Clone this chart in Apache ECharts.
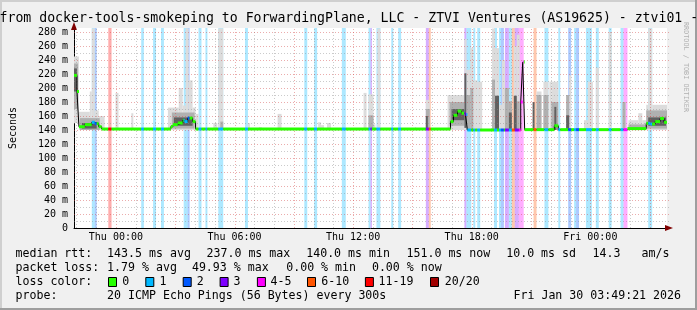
<!DOCTYPE html>
<html><head><meta charset="utf-8">
<script src="https://cdn.jsdelivr.net/npm/echarts@6/dist/echarts.min.js"></script>
<style>html,body{margin:0;padding:0;background:#f0f0f0}#c{width:697px;height:310px}</style>
</head><body><div id="c"></div>
<script>
// ---- time axis: hours relative to Thu 00:00 ----
const X_MIN = -2.12, X_MAX = 27.88;
const Y_MAX = 285.7;
const xTickHours = [0, 6, 12, 18, 24];
const xTickLabels = ['Thu 00:00', 'Thu 06:00', 'Thu 12:00', 'Thu 18:00', 'Fri 00:00'];
const yTickValues = [0, 20, 40, 60, 80, 100, 120, 140, 160, 180, 200, 220, 240, 260, 280];

// loss classes
const lossLabels = ['0', '1', '2', '3', '4-5', '6-10', '11-19', '20/20'];
const lossColors = ['#26ff00', '#00b8ff', '#0059ff', '#7e00ff', '#ff00ff', '#ff5500', '#ff0000', '#a10000'];

// median rtt (ms), step function: value holds from medT[i] until medT[i+1]
const medT = [-2.12,-1.97,-1.87,-1.57,-1.22,-1.07,-0.87,-0.72,2.78,2.88,3.13,3.38,3.48,3.63,3.88,4.03,16.93,17.08,17.28,17.48,17.68,17.78,20.48,20.58,20.68,22.18,22.38,25.88,26.83,27.03,27.28,27.53,27.73];
const medV = [218,195,144.7,147.6,151,149,144.7,141.4,145,147.6,150,154,152,157,152,141.4,152,161,167,164,162,140,180,237,140.5,146,140.5,142,149.5,148.5,152,156.5,151];

// packet-loss periods: [start, end, loss class]
const lossBands = [[-1.22,-1.07,1],[-1.07,-0.97,2],[-0.385,-0.22,6],[1.28,1.415,1],[1.88,2.03,1],[2.28,2.43,1],[3.43,3.63,1],[3.63,3.73,2],[4.18,4.33,1],[4.53,4.63,1],[5.18,5.43,1],[6.53,6.68,1],[9.53,9.68,1],[10.03,10.18,1],[11.43,11.63,1],[12.78,12.88,1],[12.88,12.95,3],[13.18,13.38,1],[13.93,14.03,1],[14.28,14.43,1],[15.68,15.83,3],[15.83,15.93,5],[17.63,17.73,3],[17.73,17.98,1],[18.08,18.18,1],[18.28,18.43,1],[19.13,19.28,1],[19.38,19.48,1],[19.48,19.63,2],[19.68,19.88,3],[19.88,20.03,1],[20.03,20.18,5],[20.18,20.38,3],[20.38,20.63,4],[21.13,21.28,5],[21.68,21.88,1],[22.38,22.48,1],[22.88,23.03,2],[23.18,23.28,1],[23.28,23.43,2],[23.78,24.08,1],[24.28,24.43,1],[24.93,25.08,1],[25.53,25.68,1],[25.68,25.88,4],[26.93,27.13,1]];

// smoke (ping spread): [start, end, low ms, high ms]
const smokeOuter = [[-2.12,-1.87,150,245],[-1.87,-1.32,140,166],[-1.32,-1.22,140,195],[-1.22,-1.07,140,285],[-1.07,-0.87,140,168],[-0.87,-0.57,140,160],[-0.02,0.13,140,193],[0.78,0.88,140,164],[2.63,3.18,140,172],[3.18,3.38,140,200],[3.38,3.53,140,175],[3.53,3.68,140,285],[3.68,3.88,140,211],[3.88,4.03,140,172],[4.03,4.18,140,163],[4.93,5.13,140,150],[5.18,5.43,140,285],[6.68,6.78,140,150],[7.23,7.38,140,144],[8.18,8.38,140,163],[10.23,10.38,140,151],[10.38,10.53,140,147],[10.68,10.88,140,150],[12.53,12.68,140,193],[12.78,13.03,140,191],[13.03,13.13,140,148],[13.23,13.38,140,285],[15.13,15.18,140,144],[15.68,15.88,140,183],[16.78,17.63,140,190],[17.63,17.73,140,270],[17.73,17.93,140,226],[17.93,18.08,140,257],[18.08,18.28,140,211],[18.28,18.53,140,209],[19.03,19.18,140,285],[19.18,19.38,140,257],[19.38,19.53,140,176],[19.53,19.68,140,240],[19.68,19.88,140,200],[19.88,20.03,140,181],[20.13,20.28,140,260],[20.28,20.43,140,276],[21.28,21.53,140,195],[21.63,21.88,140,209],[21.93,22.03,140,209],[22.03,22.38,140,209],[22.78,22.93,140,190],[22.93,23.03,140,218],[23.68,23.88,140,154],[23.88,24.13,140,209],[24.28,24.43,140,229],[24.93,25.08,140,280],[25.63,25.78,140,180],[25.93,26.43,140,154],[26.43,26.63,140,164],[26.63,26.83,140,154],[26.83,26.93,140,176],[26.93,27.13,140,285],[27.13,27.88,140,176]];
const smokeMiddle = [[-2.12,-1.92,170,235],[-1.82,-0.82,140,157],[2.83,3.98,142,165],[5.28,5.43,140,152],[12.78,13.03,140,161],[15.68,15.88,140,170],[16.88,17.63,146,180],[17.73,17.93,140,190],[17.93,18.08,140,200],[19.03,19.18,140,212],[19.68,19.88,140,200],[19.88,20.03,140,181],[20.28,20.43,140,181],[21.28,21.53,140,190],[21.63,21.88,140,190],[22.03,22.38,140,180],[22.78,22.93,140,190],[25.63,25.78,140,180],[25.93,26.83,140,148],[26.83,27.88,142,168]];
const smokeInner = [[-2.12,-1.97,195,228],[-1.72,-0.97,142,150],[2.93,3.88,146,158],[15.68,15.78,140,160],[16.98,17.63,154,170],[17.63,17.73,143,221],[19.18,19.38,140,189],[19.88,20.03,140,165],[20.13,20.28,140,189],[21.08,21.18,140,180],[22.18,22.28,140,173],[22.78,22.93,140,161],[26.93,27.83,146,158]];

// legend texts
const titleText = 'from docker-tools-smokeping to ForwardingPlane, LLC - ZTVI Ventures (AS19625) - ztvi01 -';
const rttStats = ['median rtt:', '143.5 ms avg', '237.0 ms max', '140.0 ms min', '151.0 ms now', '10.0 ms sd', '14.3', 'am/s'];
const lossStats = ['packet loss:', '1.79 % avg', '49.93 % max', '0.00 % min', '0.00 % now'];
const probeText = ['probe:', '20 ICMP Echo Pings (56 Bytes) every 300s'];
const dateText = 'Fri Jan 30 03:49:21 2026';

// ---- layout / style (not data) ----
const MONO = '"DejaVu Sans Mono", monospace';
const rttX = [16, 107.6, 207, 306.7, 407, 506.7, 593, 642];
const lossX = [16, 107.6, 192.4, 286.7, 372.4];
const boxX = [108, 145.3, 182.7, 219.6, 256.9, 307, 364.9, 430];
const boxTextX = [122.7, 160, 197.3, 234, 271, 321.8, 379, 445.3];

function clsAt(t) { for (const b of lossBands) if (t >= b[0] && t < b[1]) return b[2]; return 0; }
function medAt(t) { let v = medV[0]; for (let i = 0; i < medT.length; i++) if (medT[i] <= t) v = medV[i]; return v; }

const cuts = Array.from(new Set([...medT, ...lossBands.flatMap(b => [b[0], b[1]]), X_MAX]))
  .filter(t => t >= X_MIN && t <= X_MAX).sort((a, b) => a - b);
const medPieces = [];
for (let i = 0; i < cuts.length - 1; i++) {
  const m = (cuts[i] + cuts[i + 1]) / 2;
  medPieces.push([cuts[i], cuts[i + 1], medAt(m), clsAt(m)]);
}
const medLine = medT.map((t, i) => [t, medV[i]]).concat([[X_MAX, medV[medV.length - 1]]]);

const gridHours = []; for (let h = Math.ceil(X_MIN); h <= Math.floor(X_MAX); h++) gridHours.push(h);
const gridMs = []; for (let v = 10; v < Y_MAX; v += 10) gridMs.push(v);

function rectSeries(data, color, z) {
  return {
    type: 'custom', z: z, silent: true, clip: true, data: data,
    encode: { x: [0, 1], y: [2, 3] },
    renderItem: function (params, api) {
      const p0 = api.coord([api.value(0), api.value(3)]);
      const p1 = api.coord([api.value(1), api.value(2)]);
      return { type: 'rect', shape: { x: p0[0], y: p0[1], width: p1[0] - p0[0], height: p1[1] - p0[1] }, style: { fill: color } };
    }
  };
}

const chart = echarts.init(document.getElementById('c'), null, { renderer: 'canvas', width: 697, height: 310 });

const graphic = [
  { type: 'rect', shape: { x: 0, y: 0, width: 697, height: 2 }, style: { fill: '#cfcfcf' }, silent: true },
  { type: 'rect', shape: { x: 0, y: 0, width: 2, height: 310 }, style: { fill: '#cfcfcf' }, silent: true },
  { type: 'rect', shape: { x: 0, y: 308, width: 697, height: 2 }, style: { fill: '#9e9e9e' }, silent: true },
  { type: 'rect', shape: { x: 695, y: 0, width: 2, height: 310 }, style: { fill: '#9e9e9e' }, silent: true },
  { type: 'text', x: -0.5, y: 18.5, style: { text: titleText, font: '13.2px ' + MONO, fill: '#000', verticalAlign: 'middle', align: 'left' }, silent: true },
  { type: 'text', x: 686, y: 22, rotation: -Math.PI / 2, style: { text: 'RRDTOOL / TOBI OETIKER', font: '6.8px ' + MONO, fill: '#b0b0b0', verticalAlign: 'middle', align: 'left' }, silent: true }
];
rttStats.forEach((s, i) => graphic.push({ type: 'text', x: rttX[i] - 0.5, y: 254.3, style: { text: s, font: '11.6px ' + MONO, fill: '#000', verticalAlign: 'middle' }, silent: true }));
lossStats.forEach((s, i) => graphic.push({ type: 'text', x: lossX[i] - 0.5, y: 268.3, style: { text: s, font: '11.6px ' + MONO, fill: '#000', verticalAlign: 'middle' }, silent: true }));
graphic.push({ type: 'text', x: 15.5, y: 282.3, style: { text: 'loss color:', font: '11.6px ' + MONO, fill: '#000', verticalAlign: 'middle' }, silent: true });
lossLabels.forEach((s, i) => {
  graphic.push({ type: 'rect', shape: { x: boxX[i] + 0.5, y: 277.5, width: 8, height: 9 }, style: { fill: lossColors[i], stroke: '#000', lineWidth: 1 }, silent: true });
  graphic.push({ type: 'text', x: boxTextX[i] - 0.5, y: 282.3, style: { text: s, font: '11.6px ' + MONO, fill: '#000', verticalAlign: 'middle' }, silent: true });
});
graphic.push({ type: 'text', x: 15.5, y: 296.3, style: { text: probeText[0], font: '11.6px ' + MONO, fill: '#000', verticalAlign: 'middle' }, silent: true });
graphic.push({ type: 'text', x: 107.1, y: 296.3, style: { text: probeText[1], font: '11.6px ' + MONO, fill: '#000', verticalAlign: 'middle' }, silent: true });
graphic.push({ type: 'text', x: 681, y: 296.3, style: { text: dateText, font: '11.6px ' + MONO, fill: '#000', verticalAlign: 'middle', align: 'right' }, silent: true });

const option = {
  animation: false,
  backgroundColor: '#f0f0f0',
  grid: { left: 67, right: 30, top: 28, bottom: 82, show: true, backgroundColor: '#ffffff', borderWidth: 0 },
  xAxis: [
    {
      type: 'value', min: X_MIN, max: X_MAX, position: 'bottom',
      axisLine: { show: true, onZero: false, lineStyle: { color: '#000', width: 1 } },
      axisTick: { show: false },
      splitLine: { show: false },
      axisLabel: {
        customValues: xTickHours, margin: 4,
        formatter: v => { const i = xTickHours.indexOf(v); return i >= 0 ? xTickLabels[i] : ''; },
        fontFamily: MONO, fontSize: 10, color: '#000'
      }
    },
    {
      type: 'value', min: X_MIN, max: X_MAX, position: 'bottom',
      axisLine: { show: true, onZero: false, symbol: ['none', 'triangle'], symbolSize: [6, 8], symbolOffset: [0, 2], lineStyle: { color: '#7f0000', opacity: 0 } },
      axisTick: { show: false }, axisLabel: { show: false }, splitLine: { show: false }
    }
  ],
  yAxis: [
    {
      type: 'value', min: 0, max: Y_MAX, interval: 20, position: 'left',
      name: 'Seconds', nameLocation: 'middle', nameGap: 56,
      nameTextStyle: { fontFamily: MONO, fontSize: 10, color: '#000' },
      axisLine: { show: true, onZero: false, lineStyle: { color: '#000', width: 1 } },
      axisTick: { show: false },
      splitLine: { show: false },
      axisLabel: {
        customValues: yTickValues, margin: 6,
        formatter: v => (v === 0 ? '0' : v + ' m'),
        fontFamily: MONO, fontSize: 10, color: '#000'
      }
    },
    {
      type: 'value', min: 0, max: Y_MAX, position: 'left',
      axisLine: { show: true, onZero: false, symbol: ['none', 'triangle'], symbolSize: [6, 8], symbolOffset: [0, 2], lineStyle: { color: '#7f0000', opacity: 0 } },
      axisTick: { show: false }, axisLabel: { show: false }, splitLine: { show: false }
    }
  ],
  series: [
    {
      type: 'custom', z: 1, silent: true, clip: true, data: lossBands,
      encode: { x: [0, 1] },
      renderItem: function (params, api) {
        const p0 = api.coord([api.value(0), Y_MAX]);
        const p1 = api.coord([api.value(1), 0]);
        return { type: 'rect', shape: { x: p0[0], y: p0[1], width: p1[0] - p0[0], height: p1[1] - p0[1] }, style: { fill: lossColors[api.value(2)], opacity: 0.32 } };
      }
    },
    rectSeries(smokeOuter, '#dcdcdc', 2),
    rectSeries(smokeMiddle, '#b0b0b0', 3),
    rectSeries(smokeInner, '#606060', 4),
    {
      type: 'custom', z: 5, silent: true, clip: true, data: gridHours.map(h => [h]),
      encode: { x: 0 },
      renderItem: function (params, api) {
        const h = api.value(0);
        const x = Math.round(api.coord([h, 0])[0]) + 0.5;
        const yb = api.coord([h, 0])[1], yt = api.coord([h, Y_MAX])[1];
        const major = ((h % 3) + 3) % 3 === 0;
        return { type: 'line', shape: { x1: x, y1: yb, x2: x, y2: yt }, style: { stroke: major ? 'rgba(210,70,70,0.45)' : 'rgba(140,140,140,0.45)', lineWidth: 1, lineDash: [1, 2] } };
      }
    },
    {
      type: 'custom', z: 5, silent: true, clip: false, data: gridMs.map(v => [v]),
      encode: { y: 0 },
      renderItem: function (params, api) {
        const v = api.value(0);
        const y = Math.round(api.coord([X_MIN, v])[1]) + 0.5;
        const xl = api.coord([X_MIN, v])[0], xr = api.coord([X_MAX, v])[0] + 2;
        const major = v % 20 === 0;
        return { type: 'line', shape: { x1: xl, y1: y, x2: xr, y2: y }, style: { stroke: major ? 'rgba(210,70,70,0.45)' : 'rgba(140,140,140,0.45)', lineWidth: 1, lineDash: [1, 2] } };
      }
    },
    {
      type: 'line', z: 6, data: medLine, step: 'end', symbol: 'none', silent: true,
      lineStyle: { color: '#000', width: 1 }
    },
    {
      type: 'custom', z: 7, silent: true, clip: true, data: medPieces,
      encode: { x: [0, 1], y: 2 },
      renderItem: function (params, api) {
        const p0 = api.coord([api.value(0), api.value(2)]);
        const p1 = api.coord([api.value(1), api.value(2)]);
        return { type: 'line', shape: { x1: p0[0], y1: p0[1], x2: p1[0], y2: p1[1] }, style: { stroke: lossColors[api.value(3)], lineWidth: 3, lineCap: 'butt' } };
      }
    }
  ],
  graphic: graphic
};
chart.setOption(option);
</script>
</body></html>
